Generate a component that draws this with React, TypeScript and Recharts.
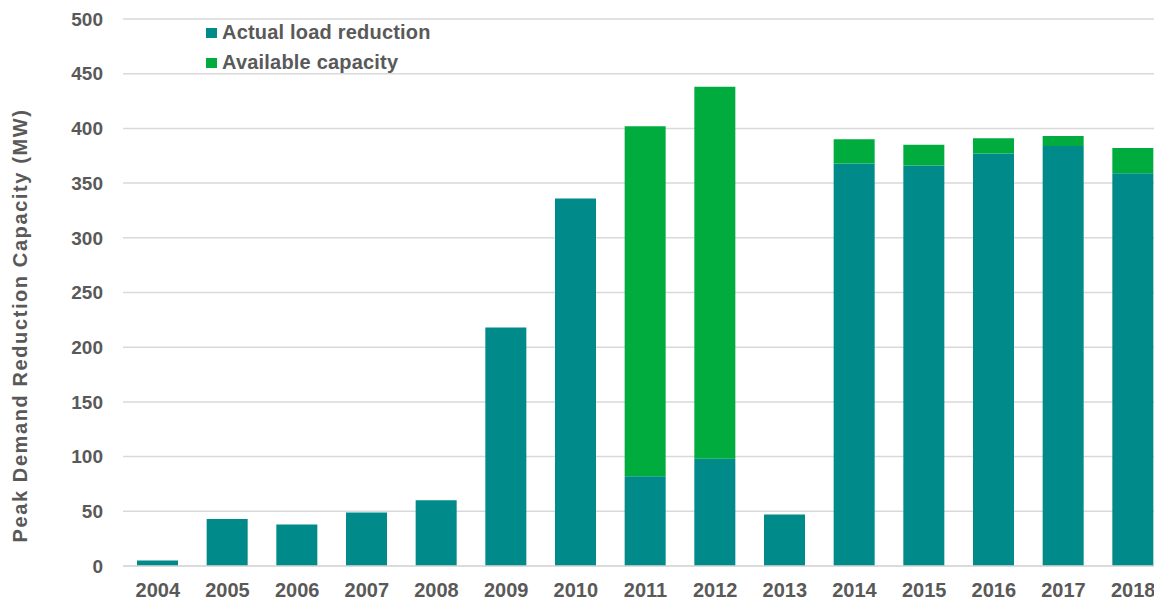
import { Bar, BarChart, CartesianGrid, Legend, XAxis, YAxis } from "recharts"

const years = ["2004", "2005", "2006", "2007", "2008", "2009", "2010", "2011", "2012", "2013", "2014", "2015", "2016", "2017", "2018"]
const actualLoad = [5, 43, 38, 49, 60, 218, 336, 82, 98, 47, 368, 366, 377, 384, 359]
const availableCap = [0, 0, 0, 0, 0, 0, 0, 320, 340, 0, 22, 19, 14, 9, 23]
const yTicks = [0, 50, 100, 150, 200, 250, 300, 350, 400, 450, 500]

const data = years.map((year, i) => ({
  year,
  actual: actualLoad[i],
  available: availableCap[i],
}))

const TEXT = "#595959"
const FONT = "'Liberation Sans', Arial, sans-serif"

const renderLegend = (props: any) => (
  <div style={{ fontFamily: FONT, fontWeight: 700, fontSize: 20, color: TEXT, letterSpacing: 0.2 }}>
    {props.payload.map((entry: any) => (
      <div key={entry.value} style={{ display: "flex", alignItems: "center", height: 29.5, whiteSpace: "nowrap" }}>
        <span style={{ display: "inline-block", width: 11, height: 10, background: entry.color, marginRight: 5, marginTop: 1 }} />
        <span>{entry.value}</span>
      </div>
    ))}
  </div>
)

const renderYLabel = (props: any) => {
  const vb = props.viewBox
  const cx = 20
  const cy = vb.y + vb.height / 2 + 33
  return (
    <text
      x={cx}
      y={cy}
      transform={`rotate(-90, ${cx}, ${cy})`}
      textAnchor="middle"
      dominantBaseline="central"
      fill={TEXT}
      fontFamily={FONT}
      fontWeight={700}
      fontSize={20}
      letterSpacing={1.6}
    >
      Peak Demand Reduction Capacity (MW)
    </text>
  )
}

export default function App() {
  return (
    <div style={{ position: "fixed", left: 0, top: 0, width: 1154, height: 600, overflow: "hidden", background: "#fff" }}>
      <BarChart width={1168} height={600} data={data} margin={{ top: 19, right: 0, left: 0, bottom: 0 }} barSize={41}>
        <CartesianGrid vertical={false} stroke="#d9d9d9" strokeWidth={1.5} />
        <XAxis
          dataKey="year"
          height={34}
          tickLine={false}
          axisLine={{ stroke: "#d9d9d9", strokeWidth: 1.5 }}
          tickSize={0}
          tickMargin={17}
          tick={{ fill: TEXT, fontFamily: FONT, fontWeight: 700, fontSize: 20 }}
        />
        <YAxis
          width={123}
          domain={[0, 500]}
          ticks={yTicks}
          interval={0}
          tickLine={false}
          axisLine={false}
          tickSize={0}
          tickMargin={20}
          tick={{ fill: TEXT, fontFamily: FONT, fontWeight: 700, fontSize: 19 }}
          label={{ content: renderYLabel }}
        />
        <Legend
          layout="vertical"
          align="center"
          verticalAlign="middle"
          wrapperStyle={{ left: 206, top: 18, width: "auto" }}
          content={renderLegend}
        />
        <Bar dataKey="actual" name="Actual load reduction" stackId="a" fill="#008A8A" isAnimationActive={false} />
        <Bar dataKey="available" name="Available capacity" stackId="a" fill="#00AC3E" isAnimationActive={false} />
      </BarChart>
    </div>
  )
}
